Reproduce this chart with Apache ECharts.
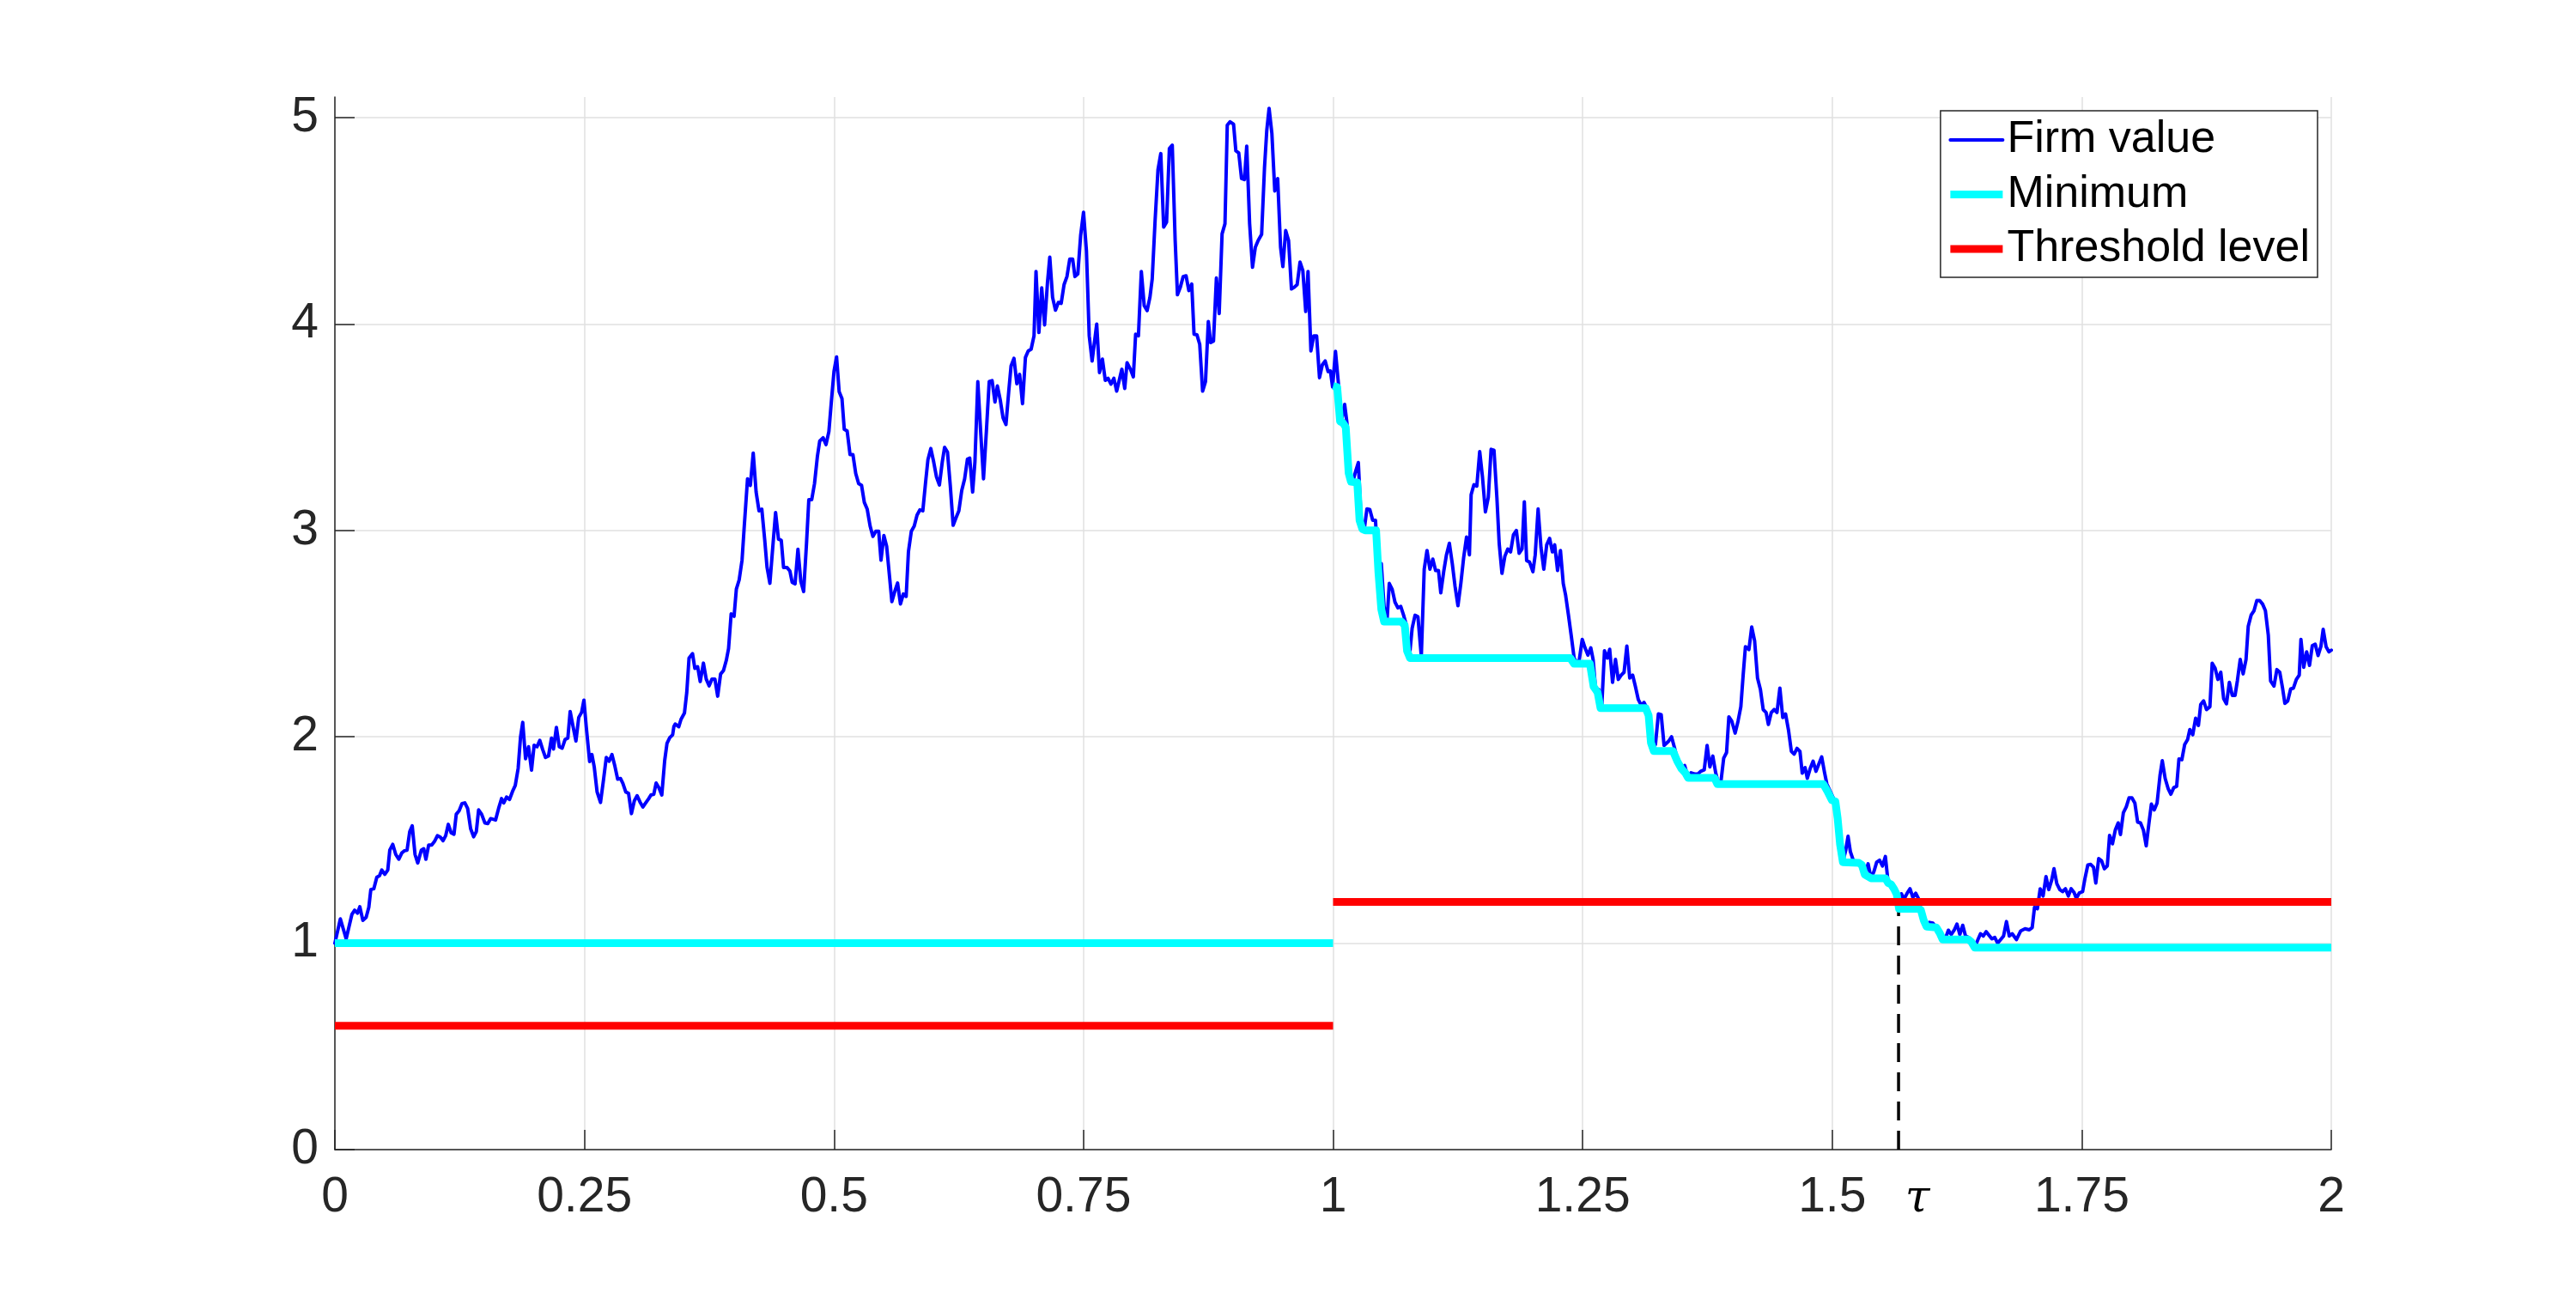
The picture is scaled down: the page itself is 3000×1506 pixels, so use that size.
<!DOCTYPE html>
<html>
<head>
<meta charset="utf-8">
<script src="https://cdn.jsdelivr.net/npm/echarts@6/dist/echarts.min.js"></script>
<style>
html,body{margin:0;padding:0;background:#fff;}
#chart{width:3000px;height:1506px;}
</style>
</head>
<body>
<div id="chart"></div>
<script>
// ---------- data ----------
const xTickValues = [0, 0.25, 0.5, 0.75, 1, 1.25, 1.5, 1.75, 2];
const yTickValues = [0, 1, 2, 3, 4, 5];
const yMax = 5.1;

const firmValue = [
[0.000,1.0],[0.0055,1.118],[0.0113,1.021],[0.017,1.139],[0.0198,1.16],[0.0227,1.146],[0.025,1.177],[0.028,1.111],[0.0313,1.125],[0.034,1.174],[0.036,1.26],[0.039,1.264],[0.042,1.32],[0.0447,1.327],[0.047,1.355],[0.05,1.334],[0.053,1.355],[0.055,1.451],[0.058,1.479],[0.061,1.43],[0.064,1.407],[0.067,1.437],[0.0696,1.448],[0.0723,1.451],[0.075,1.541],[0.0775,1.569],[0.0803,1.43],[0.083,1.389],[0.0866,1.451],[0.089,1.458],[0.0912,1.407],[0.094,1.476],[0.097,1.476],[0.0998,1.493],[0.1027,1.521],[0.1056,1.514],[0.1084,1.497],[0.111,1.521],[0.1136,1.576],[0.1165,1.535],[0.1193,1.528],[0.1216,1.625],[0.1245,1.642],[0.1274,1.677],[0.1302,1.68],[0.133,1.653],[0.136,1.555],[0.139,1.516],[0.1417,1.541],[0.144,1.646],[0.147,1.625],[0.1503,1.583],[0.1532,1.58],[0.156,1.604],[0.159,1.6],[0.161,1.597],[0.164,1.653],[0.167,1.701],[0.1692,1.68],[0.172,1.708],[0.175,1.697],[0.178,1.736],[0.1807,1.764],[0.1836,1.847],[0.186,2.0],[0.1882,2.07],[0.191,1.894],[0.194,1.952],[0.197,1.839],[0.1996,1.959],[0.2025,1.952],[0.2053,1.983],[0.2082,1.938],[0.211,1.9],[0.214,1.907],[0.217,1.994],[0.219,1.941],[0.2219,2.046],[0.2248,1.952],[0.2277,1.945],[0.2306,1.987],[0.2334,1.994],[0.2357,2.123],[0.2386,2.05],[0.2415,1.98],[0.2443,2.094],[0.2472,2.119],[0.2495,2.178],[0.2518,2.05],[0.2535,1.966],[0.2552,1.88],[0.2575,1.914],[0.2598,1.855],[0.2627,1.733],[0.2661,1.682],[0.269,1.788],[0.2719,1.9],[0.2747,1.882],[0.2776,1.914],[0.2805,1.858],[0.2833,1.795],[0.2862,1.798],[0.2885,1.775],[0.2914,1.733],[0.2942,1.726],[0.2971,1.628],[0.3,1.69],[0.3028,1.715],[0.3057,1.684],[0.3086,1.66],[0.3114,1.68],[0.3143,1.7],[0.3166,1.718],[0.3195,1.722],[0.3218,1.776],[0.3246,1.753],[0.3275,1.718],[0.3304,1.885],[0.3327,1.968],[0.3355,1.996],[0.3384,2.01],[0.3396,2.05],
[0.341,2.062],[0.3445,2.049],[0.3468,2.085],[0.3502,2.115],[0.3525,2.214],[0.3548,2.382],[0.3583,2.403],[0.3606,2.332],[0.3634,2.34],[0.366,2.268],[0.3692,2.357],[0.372,2.28],[0.3749,2.247],[0.3778,2.28],[0.3807,2.28],[0.3835,2.197],[0.3864,2.304],[0.3893,2.321],[0.3921,2.37],[0.3944,2.428],[0.397,2.596],[0.3999,2.584],[0.4022,2.716],[0.405,2.76],[0.4079,2.856],[0.4099,3.004],[0.4134,3.25],[0.4162,3.218],[0.4191,3.375],[0.422,3.186],[0.4249,3.095],[0.4277,3.103],[0.4306,2.955],[0.4329,2.823],[0.4358,2.744],[0.4386,2.914],[0.4415,3.087],[0.4444,2.958],[0.4472,2.952],[0.4495,2.82],[0.453,2.82],[0.4558,2.804],[0.4581,2.749],[0.461,2.741],[0.4639,2.909],[0.4668,2.753],[0.4696,2.704],[0.4725,2.938],[0.4748,3.149],[0.4777,3.149],[0.4805,3.227],[0.4834,3.359],[0.4857,3.433],[0.4891,3.449],[0.492,3.416],[0.4949,3.479],[0.4972,3.614],[0.5,3.77],[0.5026,3.841],[0.5052,3.672],[0.508,3.639],[0.5103,3.49],[0.5132,3.482],[0.5161,3.367],[0.519,3.367],[0.5218,3.276],[0.5247,3.227],[0.5276,3.219],[0.5304,3.136],[0.5333,3.103],[0.5362,3.021],[0.539,2.971],[0.5419,2.996],[0.5448,2.996],[0.5471,2.856],[0.55,2.975],[0.5528,2.922],[0.5557,2.774],[0.558,2.655],[0.5609,2.704],[0.5637,2.745],[0.5666,2.644],[0.5695,2.692],[0.5723,2.68],[0.5746,2.897],[0.5775,2.996],[0.5804,3.021],[0.5832,3.074],[0.5861,3.1],[0.589,3.095],[0.5918,3.235],[0.5941,3.342],[0.597,3.397],[0.5999,3.332],[0.6027,3.259],[0.6056,3.22],[0.6085,3.332],[0.6108,3.403],[0.6137,3.38],[0.6165,3.218],[0.6194,3.025],[0.6223,3.062],[0.6251,3.095],[0.628,3.194],[0.6309,3.25],[0.6337,3.345],[0.636,3.35],[0.6389,3.186],[0.6412,3.332],[0.6441,3.721],[0.6469,3.482],[0.6498,3.25],[0.6527,3.482],[0.6555,3.721],[0.6584,3.726],[0.6613,3.622],
[0.6637,3.7],[0.6665,3.634],[0.6694,3.545],[0.6723,3.513],[0.6751,3.675],[0.6774,3.797],[0.6803,3.834],[0.6832,3.711],[0.686,3.756],[0.6889,3.614],[0.6918,3.838],[0.6946,3.87],[0.6975,3.878],[0.7004,3.943],[0.7024,4.255],[0.7053,3.959],[0.7081,4.175],[0.711,3.996],[0.7139,4.202],[0.7162,4.324],[0.719,4.129],[0.7219,4.067],[0.7248,4.105],[0.7276,4.1],[0.7305,4.191],[0.7334,4.23],[0.7362,4.315],[0.7391,4.315],[0.7414,4.23],[0.7443,4.243],[0.7471,4.429],[0.75,4.542],[0.7529,4.356],[0.7557,3.943],[0.7586,3.821],[0.7632,4.0],[0.766,3.765],[0.7689,3.83],[0.7718,3.727],[0.7746,3.737],[0.7775,3.709],[0.7804,3.737],[0.7832,3.675],[0.7884,3.781],[0.7913,3.688],[0.7936,3.813],[0.797,3.781],[0.7999,3.744],[0.8022,3.951],[0.805,3.943],[0.8079,4.255],[0.8108,4.089],[0.8137,4.065],[0.8165,4.129],[0.8188,4.218],[0.8217,4.502],[0.8246,4.748],[0.8274,4.826],[0.8303,4.47],[0.8332,4.494],[0.836,4.85],[0.8389,4.867],[0.8418,4.405],[0.8441,4.142],[0.8469,4.177],[0.8498,4.23],[0.8527,4.234],[0.8555,4.162],[0.8584,4.194],[0.8607,3.951],[0.8636,3.948],[0.8664,3.902],[0.8693,3.675],[0.8722,3.721],[0.875,4.012],[0.8773,3.91],[0.8802,3.918],[0.8831,4.223],[0.8859,4.051],[0.8888,4.437],[0.8917,4.486],[0.894,4.964],[0.8968,4.98],[0.9003,4.968],[0.9026,4.839],[0.9055,4.829],[0.9083,4.705],[0.9112,4.7],[0.9135,4.862],[0.9164,4.486],[0.9193,4.275],[0.9221,4.372],[0.925,4.405],[0.9284,4.434],[0.9313,4.758],[0.9336,4.94],[0.9359,5.045],[0.9387,4.923],[0.9416,4.645],[0.9445,4.705],[0.9474,4.372],[0.9497,4.278],[0.9525,4.453],[0.9554,4.405],[0.9583,4.17],[0.9611,4.178],[0.964,4.191],[0.9669,4.3],[0.9697,4.259],[0.9726,4.061],[0.9749,4.255],[0.9778,3.87],[0.9806,3.943],[0.9835,3.943],[0.9864,3.74],[0.9892,3.802],[0.9921,3.821],[0.995,3.77],[0.9973,3.773],
[0.9995,3.695],[1.0024,3.868],[1.0053,3.715],[1.0081,3.521],[1.0116,3.611],[1.0139,3.521],[1.0167,3.285],[1.0196,3.232],[1.0225,3.285],[1.0253,3.329],[1.0282,3.042],[1.0311,3.0],[1.0339,3.104],[1.0368,3.101],[1.0397,3.049],[1.0425,3.049],[1.0454,2.799],[1.0483,2.84],[1.0511,2.632],[1.054,2.558],[1.0563,2.743],[1.0592,2.715],[1.062,2.653],[1.0649,2.625],[1.0678,2.632],[1.0706,2.59],[1.0735,2.54],[1.0764,2.382],[1.0792,2.526],[1.0821,2.589],[1.085,2.582],[1.0884,2.39],[1.0913,2.812],[1.0941,2.903],[1.097,2.812],[1.0999,2.861],[1.1027,2.806],[1.1056,2.806],[1.1079,2.698],[1.1108,2.8],[1.1136,2.882],[1.1165,2.938],[1.1194,2.84],[1.1222,2.729],[1.1251,2.635],[1.128,2.743],[1.1308,2.868],[1.1337,2.968],[1.1366,2.882],[1.1383,3.173],[1.1411,3.222],[1.144,3.215],[1.1469,3.382],[1.1497,3.257],[1.1526,3.09],[1.1555,3.16],[1.1583,3.393],[1.1612,3.389],[1.1641,3.16],[1.1664,2.938],[1.1692,2.792],[1.1721,2.875],[1.175,2.91],[1.1778,2.896],[1.1807,2.979],[1.1836,3.0],[1.1864,2.889],[1.1893,2.91],[1.1916,3.139],[1.1939,2.854],[1.1968,2.847],[1.2002,2.8],[1.2025,2.882],[1.2054,3.104],[1.2083,2.917],[1.2111,2.812],[1.214,2.93],[1.2169,2.962],[1.2197,2.896],[1.222,2.93],[1.2249,2.806],[1.2278,2.903],[1.2306,2.743],[1.2329,2.688],[1.2358,2.59],[1.2387,2.486],[1.2415,2.382],[1.2444,2.354],[1.2467,2.375],[1.2496,2.472],[1.2524,2.431],[1.2553,2.396],[1.2582,2.431],[1.2605,2.375],[1.2633,2.215],[1.2662,2.229],[1.2691,2.139],[1.2719,2.417],[1.2748,2.382],[1.2771,2.424],[1.28,2.264],[1.2829,2.375],[1.2857,2.278],[1.2886,2.299],[1.2915,2.313],[1.2943,2.44],[1.2972,2.285],[1.3001,2.299],[1.3029,2.243],[1.3058,2.18],[1.3087,2.153],[1.3115,2.167],[1.3144,2.139],[1.3173,2.007],[1.3201,1.931],[1.323,1.965],[1.3259,2.111],[1.3287,2.107],[1.3316,1.958],
[1.3362,1.979],[1.3391,2.0],[1.342,1.948],[1.3454,1.882],[1.3482,1.847],[1.3522,1.861],[1.3557,1.801],[1.3586,1.826],[1.362,1.82],[1.3655,1.82],[1.3683,1.833],[1.3718,1.84],[1.3747,1.958],[1.3775,1.854],[1.3804,1.907],[1.3833,1.826],[1.3862,1.771],[1.3885,1.78],[1.3913,1.896],[1.3942,1.924],[1.3965,2.097],[1.3994,2.076],[1.4028,2.018],[1.4057,2.076],[1.4085,2.146],[1.4108,2.298],[1.4131,2.437],[1.4166,2.423],[1.4194,2.532],[1.4223,2.465],[1.4252,2.285],[1.4281,2.23],[1.4309,2.132],[1.4338,2.118],[1.4361,2.06],[1.439,2.118],[1.4419,2.132],[1.4447,2.118],[1.4476,2.236],[1.4505,2.093],[1.4533,2.111],[1.4562,2.034],[1.4591,1.93],[1.4619,1.916],[1.4648,1.944],[1.4677,1.93],[1.47,1.824],[1.4729,1.851],[1.4751,1.799],[1.478,1.847],[1.4809,1.882],[1.4838,1.833],[1.4866,1.868],[1.4895,1.903],[1.4924,1.826],[1.4947,1.771],[1.4981,1.735],[1.5027,1.687],[1.5061,1.576],[1.5079,1.479],[1.5107,1.393],[1.5136,1.451],[1.5159,1.518],[1.5182,1.444],[1.5211,1.402],[1.524,1.393],[1.5268,1.389],[1.5297,1.379],[1.5326,1.333],[1.536,1.385],[1.5389,1.315],[1.5418,1.347],[1.5446,1.393],[1.5475,1.402],[1.5504,1.374],[1.5533,1.42],[1.5561,1.292],[1.559,1.285],[1.5619,1.264],[1.5647,1.236],[1.567,1.167],[1.5693,1.24],[1.5722,1.215],[1.5751,1.242],[1.578,1.264],[1.5808,1.222],[1.5837,1.242],[1.5866,1.215],[1.5889,1.16],[1.5917,1.111],[1.5946,1.08],[1.5975,1.101],[1.6009,1.097],[1.6044,1.076],[1.6078,1.049],[1.6107,1.018],[1.6136,1.025],[1.6164,1.063],[1.6193,1.042],[1.6222,1.063],[1.625,1.093],[1.6279,1.042],[1.6308,1.087],[1.6336,1.035],[1.6365,1.028],[1.6394,1.007],[1.6428,0.979],[1.6457,1.014],[1.6486,1.046],[1.6514,1.035],[1.6543,1.056],[1.6572,1.038],[1.66,1.021],[1.6629,1.028],[1.6658,1.0],
[1.6717,1.035],[1.6746,1.105],[1.6774,1.035],[1.6803,1.046],[1.6846,1.018],[1.6889,1.06],[1.6932,1.07],[1.6975,1.065],[1.7004,1.076],[1.7027,1.174],[1.7056,1.167],[1.7084,1.264],[1.7113,1.229],[1.7142,1.323],[1.717,1.26],[1.7199,1.306],[1.7222,1.361],[1.7251,1.288],[1.728,1.26],[1.7308,1.25],[1.7337,1.264],[1.7366,1.229],[1.7394,1.264],[1.7423,1.246],[1.7446,1.218],[1.7475,1.243],[1.7509,1.25],[1.7532,1.313],[1.7561,1.379],[1.759,1.382],[1.7618,1.368],[1.7641,1.292],[1.767,1.41],[1.7699,1.399],[1.7727,1.361],[1.7756,1.375],[1.7779,1.523],[1.7808,1.482],[1.7837,1.55],[1.7865,1.583],[1.7888,1.527],[1.7917,1.632],[1.7946,1.66],[1.7974,1.704],[1.8003,1.704],[1.8032,1.68],[1.806,1.587],[1.8089,1.583],[1.8118,1.548],[1.8146,1.472],[1.8175,1.588],[1.8198,1.674],[1.8227,1.646],[1.8255,1.68],[1.8284,1.812],[1.8307,1.884],[1.8336,1.798],[1.8365,1.75],[1.8393,1.722],[1.8422,1.754],[1.8451,1.76],[1.8474,1.893],[1.8503,1.889],[1.8531,1.962],[1.856,1.986],[1.8583,2.035],[1.8612,2.01],[1.8641,2.09],[1.8669,2.055],[1.8692,2.157],[1.8721,2.174],[1.875,2.132],[1.8784,2.146],[1.8807,2.357],[1.8836,2.333],[1.8864,2.278],[1.8893,2.313],[1.8922,2.185],[1.895,2.16],[1.8979,2.264],[1.9008,2.201],[1.9036,2.201],[1.9059,2.271],[1.9088,2.375],[1.9117,2.305],[1.9146,2.375],[1.9168,2.535],[1.9197,2.59],[1.9226,2.611],[1.9254,2.66],[1.9283,2.66],[1.9312,2.643],[1.934,2.611],[1.9369,2.493],[1.9392,2.271],[1.9426,2.246],[1.9455,2.326],[1.9484,2.313],[1.9512,2.236],[1.9535,2.162],[1.9564,2.174],[1.9593,2.232],[1.9621,2.236],[1.965,2.278],[1.9679,2.299],[1.9696,2.472],[1.9724,2.337],[1.9753,2.412],[1.9782,2.346],[1.981,2.442],[1.9839,2.449],[1.9868,2.394],[1.9896,2.438],[1.9919,2.521],[1.9948,2.437],[1.9977,2.412],[2.0,2.42]
];

const minimumBefore = [[0,1.0],[1,1.0]];
const minimumAfter = [
[1.0,3.70],[1.0041,3.695],[1.007,3.528],[1.0099,3.521],[1.0127,3.5],[1.0156,3.278],[1.0179,3.236],[1.0242,3.232],[1.0265,3.049],[1.0293,3.007],[1.0322,3.0],[1.0431,3.0],[1.0454,2.799],[1.0483,2.618],[1.0511,2.558],[1.0684,2.558],[1.0718,2.54],[1.0741,2.417],[1.077,2.382],[1.2376,2.382],[1.2415,2.354],[1.2573,2.354],[1.261,2.243],[1.265,2.215],[1.2679,2.139],[1.3132,2.139],[1.3161,2.104],[1.3184,1.972],[1.3213,1.931],[1.3405,1.931],[1.3448,1.882],[1.3491,1.845],[1.3528,1.826],[1.3557,1.801],[1.3821,1.801],[1.385,1.771],[1.4911,1.771],[1.4954,1.735],[1.4997,1.693],[1.5032,1.687],[1.5055,1.604],[1.5079,1.479],[1.5107,1.393],[1.5268,1.389],[1.5297,1.379],[1.5326,1.333],[1.5389,1.315],[1.5533,1.315],[1.5561,1.292],[1.559,1.285],[1.5619,1.264],[1.5647,1.236],[1.567,1.167],[1.5866,1.167],[1.5889,1.16],[1.5917,1.111],[1.5946,1.08],[1.6044,1.076],[1.6078,1.049],[1.6107,1.018],[1.6365,1.018],[1.6394,1.007],[1.6428,0.979],[2.0,0.979]
];

const thresholdBefore = [[0,0.6],[1,0.6]];
const thresholdAfter = [[1,1.2],[2,1.2]];

const tau = 1.5665;
const tauLine = [[tau,0],[tau,1.2]];
const tauLabel = 'τ';

const seriesNames = ['Firm value','Minimum','Threshold level'];
const seriesColors = ['#0000ff', '#00ffff', '#ff0000'];
const seriesWidths = [4, 9, 9];

// ---------- chart ----------
const FONT = '"Liberation Sans", Arial, Helvetica, sans-serif';
const AXIS_COLOR = '#262626';
const GRID_COLOR = '#e0e0e0';

const chart = echarts.init(document.getElementById('chart'), null, {renderer:'canvas'});

const option = {
  animation: false,
  backgroundColor: '#ffffff',
  grid: { left: 390, right: 285, top: 113, bottom: 167, containLabel: false },
  xAxis: {
    type: 'value', min: 0, max: 2, interval: 0.25,
    axisLine: { show: true, onZero: false, lineStyle: { color: AXIS_COLOR, width: 1.5 } },
    axisTick: { show: true, inside: true, length: 23, lineStyle: { color: AXIS_COLOR, width: 1.5 } },
    axisLabel: { show: true, margin: 28, fontSize: 57, lineHeight: 57, color: AXIS_COLOR, fontFamily: FONT,
      showMinLabel: true, showMaxLabel: true },
    splitLine: { show: true, lineStyle: { color: GRID_COLOR, width: 1.5 } }
  },
  yAxis: {
    type: 'value', min: 0, max: yMax, interval: 1,
    axisLine: { show: true, onZero: false, lineStyle: { color: AXIS_COLOR, width: 1.5 } },
    axisTick: { show: true, inside: true, length: 23, customValues: yTickValues, lineStyle: { color: AXIS_COLOR, width: 1.5 } },
    axisLabel: { show: true, margin: 19, fontSize: 57, color: AXIS_COLOR, fontFamily: FONT,
      customValues: yTickValues, showMinLabel: true, showMaxLabel: true,
      formatter: function (v) { return Number.isInteger(v) ? String(v) : ''; } },
    splitLine: { show: true, lineStyle: { color: [GRID_COLOR, GRID_COLOR, GRID_COLOR, GRID_COLOR, GRID_COLOR, GRID_COLOR, 'rgba(0,0,0,0)'], width: 1.5 } }
  },
  legend: {
    orient: 'vertical',
    right: 301, top: 129,
    padding: [8, 9, 7, 7],
    itemGap: 11.5,
    itemWidth: 61, itemHeight: 20,
    backgroundColor: '#ffffff',
    borderColor: AXIS_COLOR, borderWidth: 1.5, borderRadius: 0,
    itemStyle: { color: 'rgba(0,0,0,0)', borderColor: 'rgba(0,0,0,0)', borderWidth: 0, opacity: 0 },
    textStyle: { fontSize: 52, lineHeight: 52, color: '#000000', fontFamily: FONT },
    data: seriesNames.map(function (n, i) {
      return { name: n, lineStyle: { width: seriesWidths[i], color: seriesColors[i] } };
    })
  },
  series: [
    { name: 'tau', type: 'line', data: tauLine, symbol: 'none', silent: true, z: 1,
      lineStyle: { color: '#000000', width: 3.5, type: [22, 12] } },
    { name: seriesNames[0], type: 'line', data: firmValue, symbol: 'none', sampling: false, z: 2,
      lineStyle: { color: seriesColors[0], width: seriesWidths[0], join: 'round', cap: 'round' }, itemStyle: { color: seriesColors[0] } },
    { name: seriesNames[1], type: 'line', data: minimumBefore, symbol: 'none', z: 3,
      lineStyle: { color: seriesColors[1], width: seriesWidths[1], join: 'round', cap: 'butt' }, itemStyle: { color: seriesColors[1] } },
    { name: seriesNames[1], type: 'line', data: minimumAfter, symbol: 'none', z: 3,
      lineStyle: { color: seriesColors[1], width: seriesWidths[1], join: 'round', cap: 'butt' }, itemStyle: { color: seriesColors[1] } },
    { name: seriesNames[2], type: 'line', data: thresholdBefore, symbol: 'none', z: 4,
      lineStyle: { color: seriesColors[2], width: seriesWidths[2], cap: 'butt' }, itemStyle: { color: seriesColors[2] } },
    { name: seriesNames[2], type: 'line', data: thresholdAfter, symbol: 'none', z: 4,
      lineStyle: { color: seriesColors[2], width: seriesWidths[2], cap: 'butt' }, itemStyle: { color: seriesColors[2] } }
  ]
};
chart.setOption(option);

// τ label placed through the chart's own scale
const p = chart.convertToPixel({ gridIndex: 0 }, [tau, 0]);
chart.setOption({
  graphic: [{
    type: 'text', x: p[0] + 22, y: p[1] + 58, z: 10,
    style: { text: tauLabel, fontSize: 52, fontStyle: 'italic', fontFamily: '"DejaVu Serif", "Liberation Serif", serif',
      fill: '#000000', textAlign: 'center', textVerticalAlign: 'middle' }
  }]
});
</script>
</body>
</html>
